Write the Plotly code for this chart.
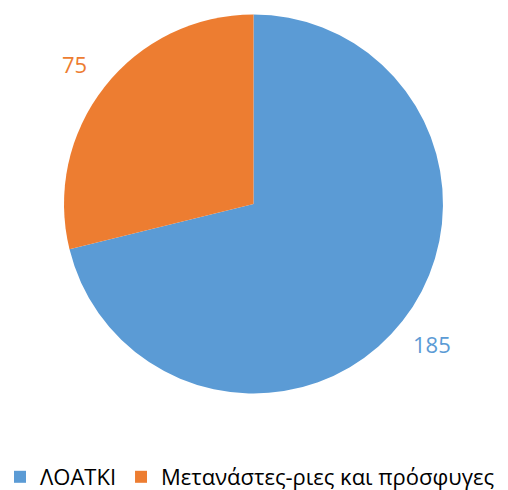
import math
import plotly.graph_objects as go

labels = ["ΛΟΑΤΚΙ", "Μετανάστες-ριες και πρόσφυγες"]
values = [185, 75]
colors = ["#5B9BD5", "#ED7D31"]

W, H = 508, 490
cx, cy, r = 253.5, 204, 189.5
label_r = 227

fig = go.Figure(go.Pie(
    labels=labels,
    values=values,
    sort=False,
    direction="clockwise",
    rotation=0,
    marker=dict(colors=colors, line=dict(width=0)),
    textinfo="none",
    domain=dict(x=[(cx - r) / W, (cx + r) / W], y=[(H - cy - r) / H, (H - cy + r) / H]),
    showlegend=True,
    hoverinfo="label+value+percent",
))

# data labels placed outside each slice, at the slice's mid angle
total = sum(values)
start = 0.0
for v, c in zip(values, colors):
    mid = start + v / total * 360 / 2
    start += v / total * 360
    a = math.radians(mid)
    px = cx + label_r * math.sin(a)
    py = cy - label_r * math.cos(a)
    fig.add_annotation(
        x=px / W, y=(H - py) / H, xref="paper", yref="paper",
        text=str(v), showarrow=False,
        font=dict(size=22, color=c, family="Open Sans"),
        xanchor="center", yanchor="middle",
    )

fig.update_layout(
    width=W, height=H,
    margin=dict(l=0, r=0, t=0, b=0, autoexpand=False),
    paper_bgcolor="white",
    plot_bgcolor="white",
    font=dict(family="Open Sans", size=21, color="#000000"),
    legend=dict(orientation="h", x=0.0, xanchor="left", y=(H - 477) / H, yanchor="middle",
                font=dict(size=22, color="#000000"), itemwidth=30,
                bgcolor="rgba(0,0,0,0)"),
)

fig.write_html("out.html", config={"displayModeBar": False},
               post_script="document.body.style.margin='0';document.body.style.overflow='hidden';")
